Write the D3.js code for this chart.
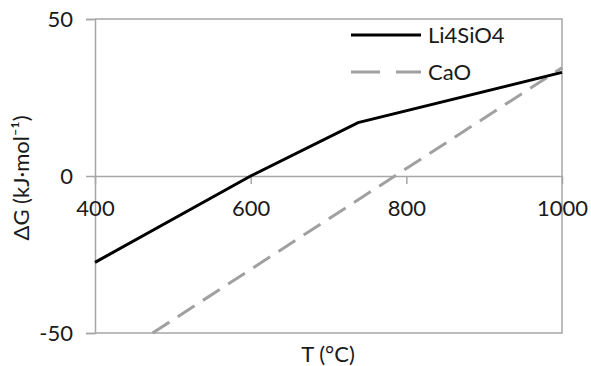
<!DOCTYPE html>
<html><head><meta charset="utf-8">
<script src="https://cdn.jsdelivr.net/npm/d3@7"></script>
<style>body{margin:0;background:#fff}svg{display:block}</style>
</head><body>
<svg id="c" width="591" height="366"></svg>
<script>
const xTicks = [400, 600, 800, 1000];
const yTicks = [-50, 0, 50];
const li4sio4T = [400, 600, 738, 1000];
const li4sio4G = [-27.5, 0, 17, 33];
const caoT = [474, 1000];
const caoG = [-50, 34.5];
const seriesNames = ["Li4SiO4", "CaO"];

const svg = d3.select("#c");
const font = "Lato, 'Open Sans', sans-serif";
const L = 95, R = 562, T = 19, B = 333;
const x = d3.scaleLinear().domain([400, 1000]).range([L, R]);
const y = d3.scaleLinear().domain([-50, 50]).range([B, T]);
const axisCol = "#a6a6a6";
const textCol = "#1a1a1a";
const fmt = d => String(d);

// plot frame (top, right, bottom)
svg.append("path").attr("d", `M${L},${T}H${R}V${B}H${L}`)
  .attr("fill", "none").attr("stroke", axisCol).attr("stroke-width", 1.5);

// y axis
const yAx = svg.append("g").attr("transform", `translate(${L},0)`)
  .call(d3.axisLeft(y).tickValues(yTicks).tickFormat(fmt).tickSize(9).tickPadding(13));
yAx.select(".domain").attr("stroke", axisCol).attr("stroke-width", 1.5);
yAx.selectAll(".tick line").attr("stroke", axisCol).attr("stroke-width", 1.5);
yAx.selectAll("text").attr("font-family", font).attr("font-size", 22).attr("fill", textCol);

// x axis at y = 0
const xAx = svg.append("g").attr("transform", `translate(0,${y(0)})`)
  .call(d3.axisBottom(x).tickValues(xTicks).tickFormat(fmt).tickSize(8).tickSizeOuter(0).tickPadding(16));
xAx.select(".domain").attr("stroke", axisCol).attr("stroke-width", 1.5);
xAx.selectAll(".tick line").attr("stroke", axisCol).attr("stroke-width", 1.5);
xAx.selectAll(".tick line").attr("y2", 8);
xAx.selectAll("text").attr("font-family", font).attr("font-size", 22).attr("fill", textCol);

const line = d3.line().x(d => x(d[0])).y(d => y(d[1]));

svg.append("path").datum(caoT.map((t, i) => [t, caoG[i]]))
  .attr("d", line).attr("fill", "none").attr("stroke", "#a0a0a0")
  .attr("stroke-width", 3).attr("stroke-dasharray", "20,10");

svg.append("path").datum(li4sio4T.map((t, i) => [t, li4sio4G[i]]))
  .attr("d", line).attr("fill", "none").attr("stroke", "#000")
  .attr("stroke-width", 3);

// legend
const leg = [{name: seriesNames[0], col: "#000", dash: null, yy: 35},
             {name: seriesNames[1], col: "#a0a0a0", dash: "29,16", yy: 72}];
leg.forEach(l => {
  svg.append("line").attr("x1", 351).attr("x2", 421).attr("y1", l.yy).attr("y2", l.yy)
    .attr("stroke", l.col).attr("stroke-width", 3).attr("stroke-dasharray", l.dash);
  svg.append("text").attr("x", 428).attr("y", l.yy).attr("dy", "0.35em")
    .attr("font-family", font).attr("font-size", 22).attr("fill", textCol).text(l.name);
});

// axis titles
svg.append("text").attr("transform", `translate(29,178) rotate(-90)`)
  .attr("text-anchor", "middle").attr("font-family", font).attr("font-size", 22)
  .attr("fill", textCol).text("ΔG (kJ·mol⁻¹)");
svg.append("text").attr("x", 328).attr("y", 362).attr("text-anchor", "middle")
  .attr("font-family", font).attr("font-size", 22).attr("fill", textCol).text("T (°C)");
</script>
</body></html>
